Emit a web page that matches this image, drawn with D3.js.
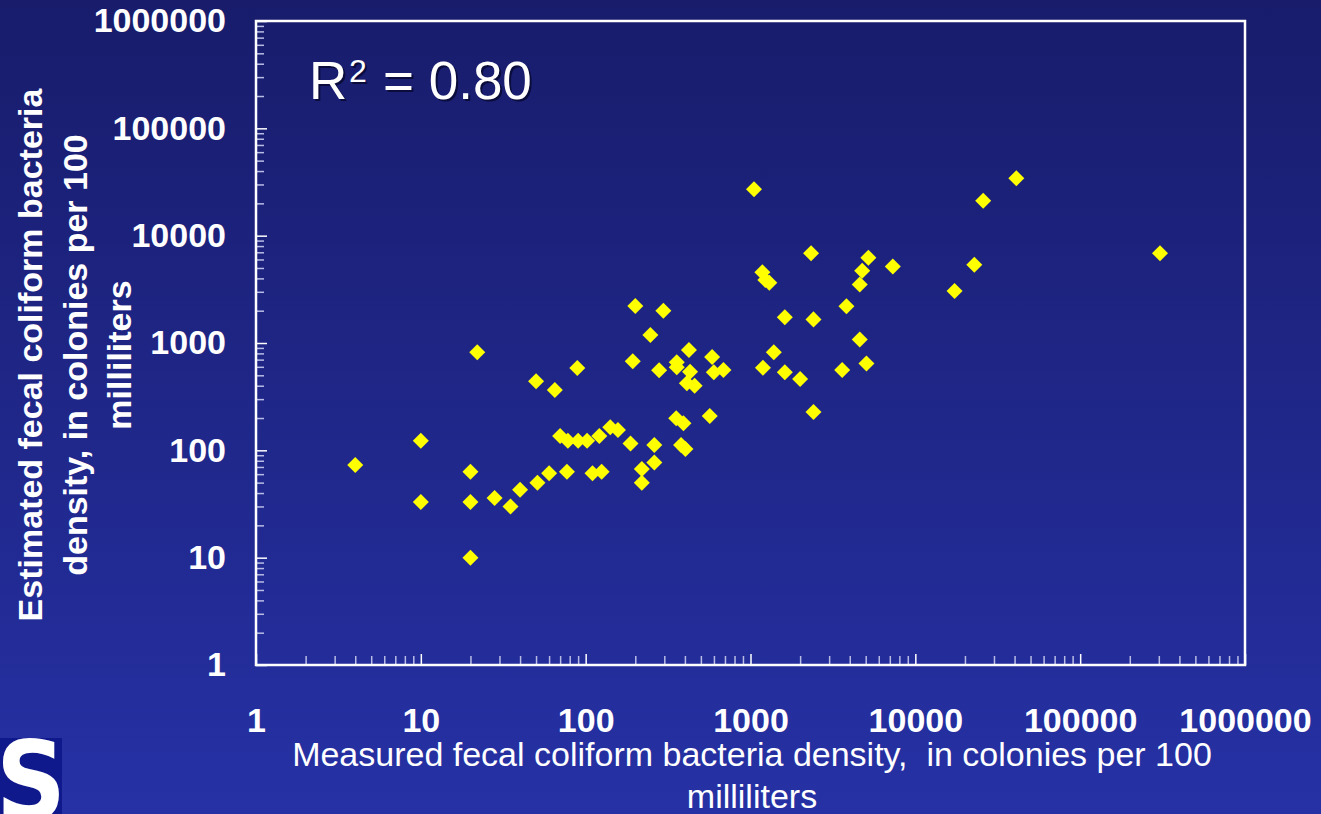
<html><head>
  <script src="https://d3js.org/d3.v7.min.js"></script>
  <style>
    body { margin: 0; background: #1f2688; overflow: hidden; }
    text { font-family: 'Liberation Sans', Arial, sans-serif; fill: white; }
    .tick text { font-size: 34px; font-weight: bold; }
  </style>
</head>
<body>
  <script>
    // measured vs estimated fecal coliform density (colonies per 100 mL)
    const measured = [4, 10, 10, 20, 20, 20, 22, 28, 35, 40, 50, 51, 60, 65, 70, 77, 78, 89, 90, 102,
                      110, 121, 125, 141, 157, 187, 193, 200, 219, 219, 247, 261, 261, 279, 296,
                      354, 357, 357, 379, 392, 403, 411, 423, 430, 458, 566, 585, 599, 685,
                      1050, 1180, 1230, 1300, 1190, 1385, 1615, 1615, 2000, 2330, 2410, 2410,
                      3600, 3820, 4600, 4600, 4760, 5050, 5190, 7300, 17300, 22800, 25800, 41000, 305000]
    const estimated = [73, 123, 33, 63, 33, 10, 820, 36, 30, 43, 440, 50, 61, 365, 136, 63, 123, 585, 123, 123,
                       61, 136, 63, 164, 155, 116, 676, 2210, 67, 50, 1190, 112, 77, 557, 2000,
                       199, 661, 594, 112, 179, 103, 421, 861, 540, 400, 209, 741, 533, 561,
                       27000, 4560, 3870, 3650, 589, 820, 1740, 533, 462, 6860, 1660, 228,
                       561, 2200, 1080, 3510, 4720, 644, 6240, 5160, 3050, 5370, 21200, 34300, 6860]

    const xTicks = [1, 10, 100, 1000, 10000, 100000, 1000000]
    const yTicks = [1, 10, 100, 1000, 10000, 100000, 1000000]
    const yTitle = ["Estimated fecal coliform bacteria", "density, in colonies per 100", "milliliters"]
    const xTitle = ["Measured fecal coliform bacteria density,  in colonies per 100", "milliliters"]
    const r2Value = "0.80"

    const points = measured.map((m, i) => ({x: m, y: estimated[i]}))

    const svg = d3.select("body").append("svg")
                  .attr("width", 1321)
                  .attr("height", 814)

    // background gradient
    const grad = svg.append("defs").append("linearGradient")
                    .attr("id", "bg").attr("x1", 0).attr("y1", 0).attr("x2", 0).attr("y2", 1)
    grad.append("stop").attr("offset", "0%").attr("stop-color", "#181c6b")
    grad.append("stop").attr("offset", "100%").attr("stop-color", "#2631a5")
    svg.append("rect").attr("width", 1321).attr("height", 814).attr("fill", "url(#bg)")

    const margin = {top: 21, bottom: 149, left: 256, right: 76}
    const x = d3.scaleLog().domain([1, 1e6]).range([margin.left, 1321 - margin.right])
    const y = d3.scaleLog().domain([1, 1e6]).range([814 - margin.bottom, margin.top])

    // minor ticks (2..9 of every decade)
    const minor = []
    for (let d = 0; d < 6; d++) for (let k = 2; k < 10; k++) minor.push(k * Math.pow(10, d))

    svg.append("g").attr("class", "minor")
       .attr("transform", `translate(0,${y(1)})`)
       .call(d3.axisBottom(x).tickValues(minor).tickFormat("").tickSizeInner(-9).tickSizeOuter(0))
    svg.append("g").attr("class", "minor")
       .attr("transform", `translate(${x(1)},0)`)
       .call(d3.axisLeft(y).tickValues(minor).tickFormat("").tickSizeInner(-8).tickSizeOuter(0))
    svg.selectAll(".minor line").attr("stroke", "#b9bde6").attr("stroke-width", 1.5)

    // major ticks and labels
    svg.append("g").attr("class", "major")
       .attr("transform", `translate(0,${y(1)})`)
       .call(d3.axisBottom(x).tickValues(xTicks).tickFormat(d3.format("d"))
               .tickSizeInner(-11).tickSizeOuter(0).tickPadding(43))
    svg.append("g").attr("class", "major")
       .attr("transform", `translate(${x(1)},0)`)
       .call(d3.axisLeft(y).tickValues(yTicks).tickFormat(d3.format("d"))
               .tickSizeInner(-11).tickSizeOuter(0).tickPadding(30))
    svg.selectAll(".major line").attr("stroke", "white").attr("stroke-width", 1.5)
    svg.selectAll(".domain").remove()
    svg.selectAll(".tick text").attr("fill", "white")

    // frame
    svg.append("rect")
       .attr("x", x(1)).attr("y", y(1e6))
       .attr("width", x(1e6) - x(1)).attr("height", y(1) - y(1e6))
       .attr("fill", "none").attr("stroke", "white").attr("stroke-width", 2.5)

    // points
    svg.append("g").selectAll("path").data(points).join("path")
       .attr("d", d3.symbol(d3.symbolSquare, 128))
       .attr("transform", d => `translate(${x(d.x)},${y(d.y)}) rotate(45)`)
       .attr("fill", "#ffff00")

    // R^2 annotation with shadow
    const r2 = svg.append("g")
    ;[["#0a0d3c", 2], ["white", 0]].forEach(([c, o]) => {
      const g = r2.append("g").attr("transform", `translate(${o},${o})`)
      g.append("text").attr("x", 309).attr("y", 99).style("font-size", "53px").style("fill", c).text("R")
      g.append("text").attr("x", 349).attr("y", 82).style("font-size", "32px").style("fill", c).text("2")
      g.append("text").attr("x", 383).attr("y", 99).style("font-size", "53px").style("fill", c).text("= " + r2Value)
    })

    // y title
    svg.append("text")
       .attr("transform", "translate(0,355) rotate(-90)")
       .style("font-size", "34px").style("font-weight", "bold")
       .attr("text-anchor", "middle")
       .selectAll("tspan").data(yTitle).join("tspan")
       .attr("x", 0).attr("y", (d, i) => 42 + i * 44.5)
       .text(d => d)

    // x title
    svg.append("text")
       .style("font-size", "34px").style("white-space", "pre")
       .attr("text-anchor", "middle")
       .selectAll("tspan").data(xTitle).join("tspan")
       .attr("x", 752).attr("y", (d, i) => 766 + i * 42)
       .text(d => d)

    // logo fragment, bottom left
    svg.append("clipPath").attr("id", "logoClip")
       .append("rect").attr("x", 0).attr("y", 738).attr("width", 62).attr("height", 76)
    const logo = svg.append("g").attr("clip-path", "url(#logoClip)")
    logo.append("rect").attr("x", 0).attr("y", 738).attr("width", 62).attr("height", 76).attr("fill", "#10198c")
    logo.append("text")
        .attr("transform", "translate(31,818) scale(0.9,1)")
        .attr("text-anchor", "middle")
        .style("font-family", "'DejaVu Sans', sans-serif")
        .style("font-weight", "bold").style("font-size", "108px")
        .text("S")
  </script>
</body></html>
